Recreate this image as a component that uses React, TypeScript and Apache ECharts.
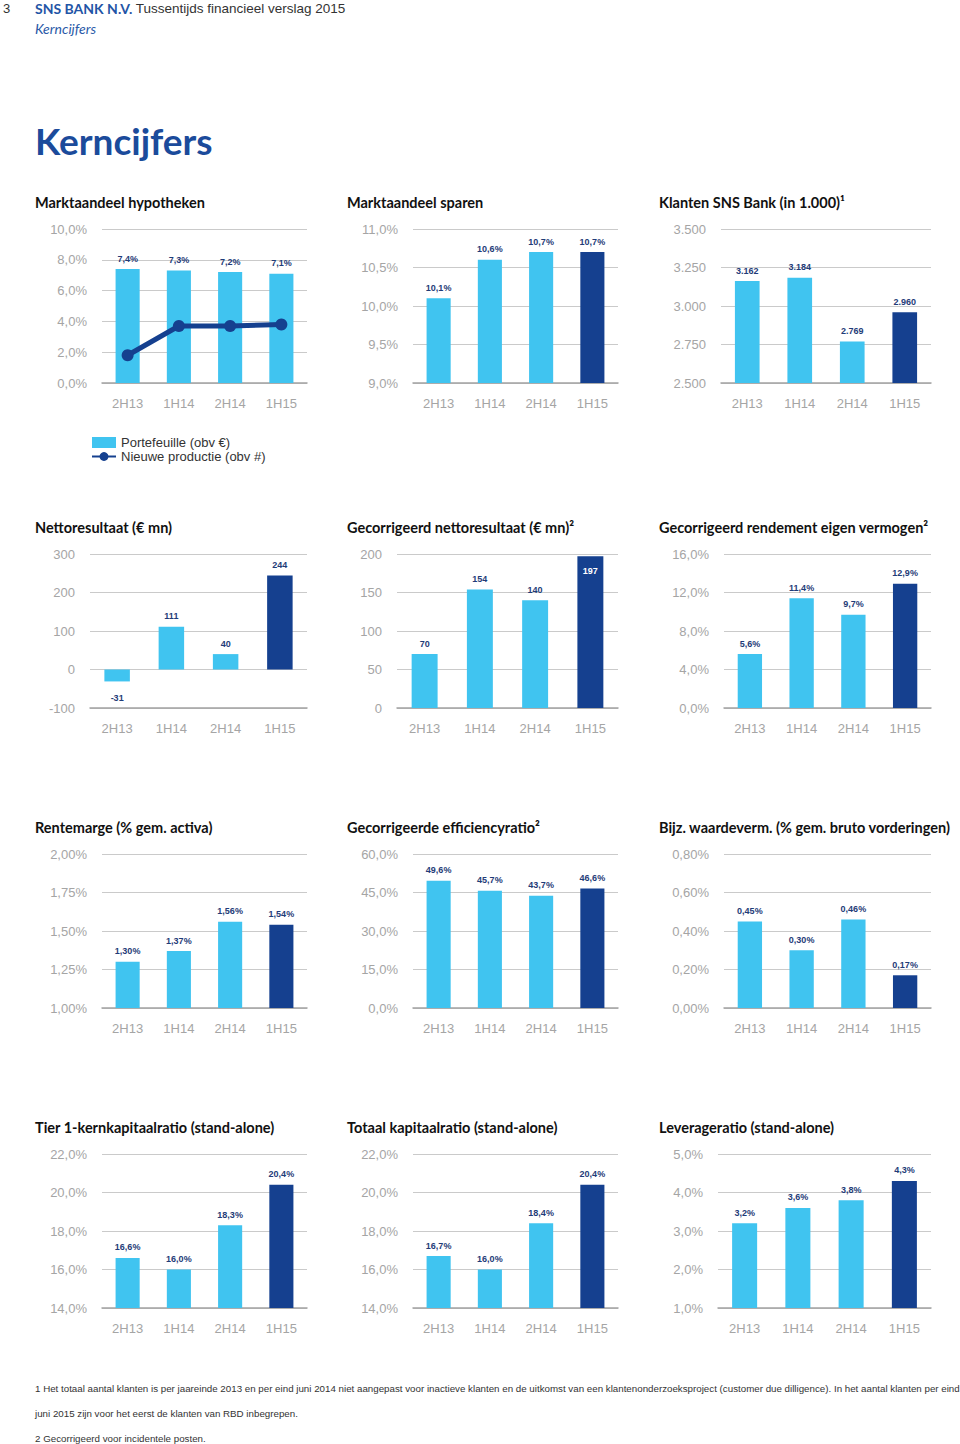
import React, { useEffect, useRef } from 'react';
import * as echarts from 'echarts';

// ---------- DATA ----------
const categories = ['2H13', '1H14', '2H14', '1H15'];
const hypothekenPortefeuille = [7.4, 7.3, 7.2, 7.1];
const hypothekenNieuweProductie = [1.8, 3.7, 3.7, 3.8];
const sparen = [10.1, 10.6, 10.7, 10.7];
const klanten = [3162, 3184, 2769, 2960];
const nettoresultaat = [-31, 111, 40, 244];
const gecorrNettoresultaat = [70, 154, 140, 197];
const gecorrRendement = [5.6, 11.4, 9.7, 12.9];
const rentemarge = [1.3, 1.37, 1.56, 1.54];
const efficiencyratio = [49.6, 45.7, 43.7, 46.6];
const waardeverminderingen = [0.45, 0.3, 0.46, 0.17];
const tier1Ratio = [16.6, 16.0, 18.3, 20.4];
const totaalKapitaalratio = [16.7, 16.0, 18.4, 20.4];
const leverageRatio = [3.2, 3.6, 3.8, 4.3];

const chartTitles = [
  'Marktaandeel hypotheken',
  'Marktaandeel sparen',
  'Klanten SNS Bank (in 1.000)¹',
  'Nettoresultaat (€ mn)',
  'Gecorrigeerd nettoresultaat (€ mn)²',
  'Gecorrigeerd rendement eigen vermogen²',
  'Rentemarge (% gem. activa)',
  'Gecorrigeerde efficiencyratio²',
  'Bijz. waardeverm. (% gem. bruto vorderingen)',
  'Tier 1-kernkapitaalratio (stand-alone)',
  'Totaal kapitaalratio (stand-alone)',
  'Leverageratio (stand-alone)',
];
const legendNames = ['Portefeuille (obv €)', 'Nieuwe productie (obv #)'];
const footnotes = [
  '1 Het totaal aantal klanten is per jaareinde 2013 en per eind juni 2014 niet aangepast voor inactieve klanten en de uitkomst van een klantenonderzoeksproject (customer due dilligence). In het aantal klanten per eind',
  'juni 2015 zijn voor het eerst de klanten van RBD inbegrepen.',
  '2 Gecorrigeerd voor incidentele posten.',
];

// ---------- STYLE ----------
const LIGHT = '#40c4f0';
const DARK = '#15408f';
const LABEL = '#1f3c78';
const AXIS_TEXT = '#a5a5a5';
const GRID = '#cacaca';
const FONT = '"Liberation Sans", Arial, sans-serif';
const TFONT = 'Lato, "Open Sans", sans-serif';

function fmt(v: number, dec: number, suffix: string, thousands = false) {
  const s = Math.abs(v).toFixed(dec);
  let [i, d] = s.split('.');
  if (thousands) i = i.replace(/\B(?=(\d{3})+(?!\d))/g, '.');
  return (v < 0 ? '-' : '') + i + (d ? ',' + d : '') + suffix;
}

const specs = [
  { data: hypothekenPortefeuille, min: 0, max: 10, interval: 2, dec: 1, suf: '%', dark: false, left: 102, right: 307, top: 229 },
  { data: sparen, min: 9, max: 11, interval: 0.5, dec: 1, suf: '%', dark: true, left: 413, right: 618, top: 229 },
  { data: klanten, min: 2500, max: 3500, interval: 250, dec: 0, suf: '', th: true, dark: true, left: 721, right: 931, top: 229 },
  { data: nettoresultaat, min: -100, max: 300, interval: 100, dec: 0, suf: '', dark: true, left: 90, right: 307, top: 554 },
  { data: gecorrNettoresultaat, min: 0, max: 200, interval: 50, dec: 0, suf: '', dark: true, left: 397, right: 618, top: 554 },
  { data: gecorrRendement, min: 0, max: 16, interval: 4, dec: 1, suf: '%', dark: true, left: 724, right: 931, top: 554 },
  { data: rentemarge, min: 1, max: 2, interval: 0.25, dec: 2, suf: '%', dark: true, left: 102, right: 307, top: 854 },
  { data: efficiencyratio, min: 0, max: 60, interval: 15, dec: 1, suf: '%', dark: true, left: 413, right: 618, top: 854 },
  { data: waardeverminderingen, min: 0, max: 0.8, interval: 0.2, dec: 2, suf: '%', dark: true, left: 724, right: 931, top: 854 },
  { data: tier1Ratio, min: 14, max: 22, interval: 2, dec: 1, suf: '%', dark: true, left: 102, right: 307, top: 1154 },
  { data: totaalKapitaalratio, min: 14, max: 22, interval: 2, dec: 1, suf: '%', dark: true, left: 413, right: 618, top: 1154 },
  { data: leverageRatio, min: 1, max: 5, interval: 1, dec: 1, suf: '%', dark: true, left: 718, right: 931, top: 1154 },
];

const titlePos = [
  [35, 202], [347, 202], [659, 202],
  [35, 527], [347, 527], [659, 527],
  [35, 827], [347, 827], [659, 827],
  [35, 1127], [347, 1127], [659, 1127],
];

export default function App() {
  const ref = useRef<HTMLDivElement>(null);
  useEffect(() => {
    if (!ref.current) return;
    const chart = echarts.init(ref.current, undefined, { renderer: 'svg' });

    const grid: any[] = [];
    const xAxis: any[] = [];
    const yAxis: any[] = [];
    const series: any[] = [];

    specs.forEach((s: any, i) => {
      grid.push({ left: s.left, top: s.top, width: s.right - s.left, height: 154, containLabel: false });
      xAxis.push({
        type: 'category', gridIndex: i, data: categories,
        axisTick: { show: false },
        axisLine: { onZero: false, lineStyle: { color: '#a3a3a3', width: 1.5 } },
        axisLabel: { color: AXIS_TEXT, fontSize: 13, fontFamily: FONT, margin: 14 },
      });
      yAxis.push({
        type: 'value', gridIndex: i, min: s.min, max: s.max, interval: s.interval,
        axisLine: { show: false }, axisTick: { show: false },
        splitLine: { lineStyle: { color: GRID, width: 1 } },
        axisLabel: {
          color: AXIS_TEXT, fontSize: 13, fontFamily: FONT, margin: 15,
          formatter: (v: number) => fmt(v, s.dec, s.suf, s.th),
        },
      });
      const items = s.data.map((v: number, j: number) => {
        const isDark = s.dark && j === categories.length - 1;
        const item: any = { value: v, itemStyle: { color: isDark ? DARK : LIGHT } };
        if (v < 0) item.label = { position: 'bottom', distance: 12 };
        if (i === 4 && j === 3) item.label = { position: 'insideTop', distance: 10, color: '#ffffff' };
        return item;
      });
      series.push({
        type: 'bar', name: i === 0 ? legendNames[0] : 'bars' + i,
        xAxisIndex: i, yAxisIndex: i, data: items, barWidth: '47%',
        itemStyle: { color: LIGHT },
        label: {
          show: true, position: 'top', distance: 6, fontSize: 9, fontWeight: 'bold',
          color: LABEL, fontFamily: FONT,
          formatter: (p: any) => fmt(p.value, s.dec, s.suf, s.th),
        },
      });
    });

    series.push({
      type: 'line', name: legendNames[1], xAxisIndex: 0, yAxisIndex: 0,
      data: hypothekenNieuweProductie, symbol: 'circle', symbolSize: 12,
      lineStyle: { color: DARK, width: 5 }, itemStyle: { color: DARK }, z: 5,
    });

    const footFont = `9.75px ${FONT}`;
    const graphic: any[] = [
      { type: 'text', x: 3, y: 8, style: { text: '3', font: `13px ${FONT}`, fill: '#333', verticalAlign: 'middle' } },
      {
        type: 'text', x: 35, y: 8,
        style: {
          text: '{b|SNS BANK N.V.} {r|Tussentijds financieel verslag 2015}', verticalAlign: 'middle',
          rich: {
            b: { fontFamily: TFONT, fontWeight: 'bold', fontSize: 14, fill: '#1f55a6' },
            r: { fontFamily: FONT, fontSize: 13.5, fill: '#333' },
          },
        },
      },
      { type: 'text', x: 35, y: 28, style: { text: 'Kerncijfers', font: `italic 14px ${TFONT}`, fill: '#2a5aa8', verticalAlign: 'middle' } },
      { type: 'text', x: 35, y: 140, style: { text: 'Kerncijfers', font: `bold 37px ${TFONT}`, fill: '#1b4b9b', verticalAlign: 'middle' } },
      ...chartTitles.map((t, i) => ({
        type: 'text', x: titlePos[i][0], y: titlePos[i][1],
        style: { text: t, font: `bold 14.5px ${TFONT}`, fill: '#111', verticalAlign: 'middle' },
      })),
      ...footnotes.map((t, i) => ({
        type: 'text', x: 35, y: [1388, 1413, 1438][i],
        style: { text: t, font: footFont, fill: '#333', verticalAlign: 'middle' },
      })),
    ];

    chart.setOption({
      animation: false,
      backgroundColor: '#ffffff',
      grid, xAxis, yAxis, series, graphic,
      legend: {
        data: [{ name: legendNames[0], icon: 'rect' }, { name: legendNames[1] }],
        orient: 'vertical', left: 86, top: 431, itemWidth: 24, itemHeight: 11, itemGap: 1,
        selectedMode: false,
        textStyle: { fontSize: 13, color: '#333', fontFamily: FONT },
      },
    });
    return () => chart.dispose();
  }, []);
  return <div ref={ref} style={{ position: 'absolute', left: 0, top: 0, width: 960, height: 1444 }} />;
}
